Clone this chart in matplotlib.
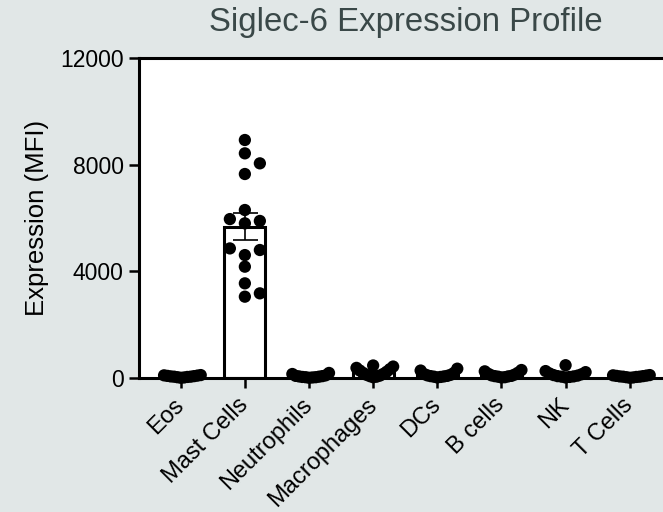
import numpy as np
import matplotlib
matplotlib.use("Agg")
import matplotlib.pyplot as plt

plt.rcParams['font.family'] = ['Liberation Sans', 'DejaVu Sans']

# data (MFI)
cell_types = ["Eos", "Mast Cells", "Neutrophils", "Macrophages", "DCs", "B cells", "NK", "T Cells"]
eos = [10, 20, 30, 40, 50, 50, 60, 70, 80, 90, 100, 110]
mast = [8925, 8425, 8050, 7650, 6300, 5960, 5800, 5890, 4800, 4860, 4610, 4175, 3550, 3175, 3050]
neutrophils = [10, 20, 30, 30, 40, 50, 60, 70, 80, 100, 150, 190]
macrophages = [30, 50, 70, 90, 120, 150, 190, 230, 280, 330, 380, 430, 470]
dcs = [20, 40, 50, 60, 70, 80, 100, 120, 150, 190, 280, 350]
b_cells = [20, 30, 50, 60, 70, 80, 100, 130, 160, 200, 250, 300]
nk = [20, 40, 50, 60, 70, 90, 110, 140, 170, 220, 260, 480]
t_cells = [10, 20, 30, 40, 50, 50, 60, 70, 80, 90, 100, 110]
groups = [eos, mast, neutrophils, macrophages, dcs, b_cells, nk, t_cells]
yticks = [0, 4000, 8000, 12000]

BG = '#e1e7e7'
TITLE_C = '#3a4848'

fig = plt.figure(figsize=(6.63, 5.12), dpi=100, facecolor=BG)
ax = fig.add_axes([0.2097, 0.2617, 0.803, 0.625])
ax.set_facecolor('white')
ax.set_xlim(-0.65, 7.65)
ax.set_ylim(0, 12000)

# pixel scale, only used to lay the dots out like a swarm
px_x = 0.803 * 663 / 8.3
px_y = 0.625 * 512 / 12000


def swarm(vals, diam=11.5, col=15.0, half_max=20.0):
    vals = np.asarray(vals, float)
    ys = vals * px_y
    offs = np.zeros(len(vals))
    done = []
    for i in np.argsort(vals):
        k = 0
        c = 0.0
        while True:
            cands = [0.0] if k == 0 else [k * col, -k * col]
            ok = [c for c in cands
                  if all((c - ox) ** 2 + (ys[i] - oy) ** 2 >= diam ** 2 for ox, oy in done)]
            if ok:
                c = ok[0]
                break
            k += 1
        offs[i] = c
        done.append((c, ys[i]))
    m = np.abs(offs).max()
    if m > half_max:
        offs *= half_max / m
    return offs / px_x


x = np.arange(len(cell_types))
means = [np.mean(g) for g in groups]
sems = [np.std(g, ddof=1) / np.sqrt(len(g)) for g in groups]

ax.bar(x, means, width=0.64, color='white', edgecolor='black', linewidth=2.2, zorder=2)
ax.errorbar(x, means, yerr=sems, fmt='none', ecolor='black', elinewidth=1.2,
            capsize=9, capthick=1.2, zorder=3)
for i, g in enumerate(groups):
    ax.scatter(x[i] + swarm(g), g, s=78, color='black', edgecolors='none', zorder=4, clip_on=False)

for side in ['left', 'bottom', 'top', 'right']:
    ax.spines[side].set_linewidth(2.2)

ax.set_yticks(yticks)
ax.set_yticklabels([str(v) for v in yticks])
ax.set_xticks(x)
ax.set_xticklabels(cell_types, rotation=45, ha='right', va='center', rotation_mode='anchor')
ax.tick_params(axis='both', length=7, width=1.8, labelsize=16.5, colors='black')
ax.tick_params(axis='y', pad=4)
ax.tick_params(axis='x', pad=10, labelsize=17)

ax.set_ylabel("Expression (MFI)", fontsize=18.5, labelpad=8)
fig.text(0.612, 0.957, "Siglec-6 Expression Profile", fontsize=23.7, color=TITLE_C,
         ha='center', va='center')

fig.savefig("out.png", dpi=100, facecolor=BG)
